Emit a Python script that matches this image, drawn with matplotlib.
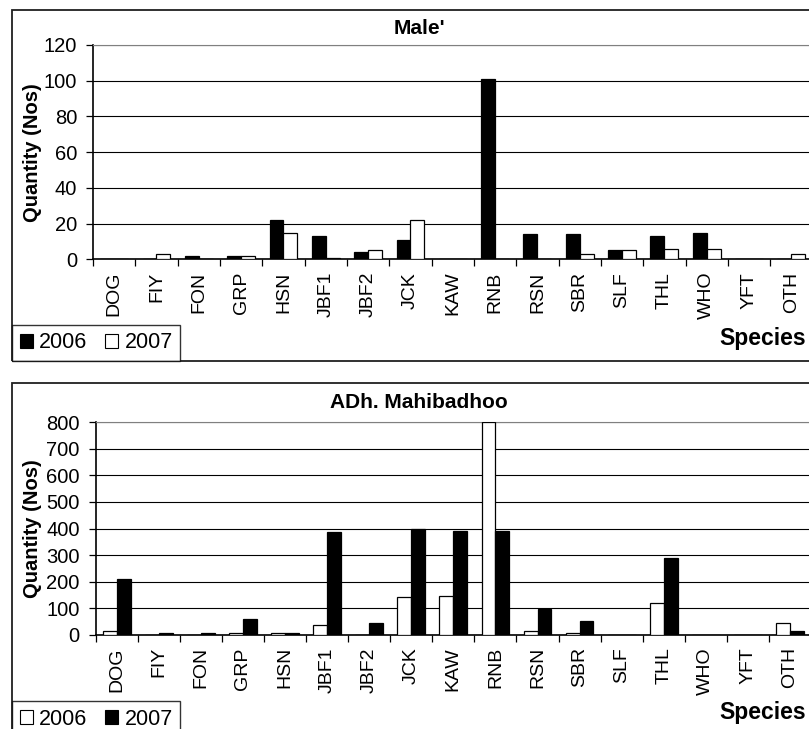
import matplotlib
matplotlib.use("Agg")
import matplotlib.pyplot as plt
from matplotlib.patches import Rectangle, Patch
import numpy as np

plt.rcParams['font.family'] = ['Liberation Sans', 'DejaVu Sans']

# species codes on the x axis (same for both sites)
species = ['DOG', 'FIY', 'FON', 'GRP', 'HSN', 'JBF1', 'JBF2', 'JCK', 'KAW',
           'RNB', 'RSN', 'SBR', 'SLF', 'THL', 'WHO', 'YFT', 'OTH']

# Male'
male_2006 = [0, 0, 2, 2, 22, 13, 4, 11, 0, 101, 14, 14, 5, 13, 15, 0, 0]
male_2007 = [0, 3, 0, 2, 15, 1, 5, 22, 0, 0, 0, 3, 5, 6, 6, 0, 3]

# ADh. Mahibadhoo
mahi_2006 = [14, 0, 0, 7, 7, 35, 0, 141, 147, 800, 14, 7, 0, 119, 0, 0, 43]
mahi_2007 = [210, 7, 7, 58, 7, 386, 43, 398, 392, 392, 95, 52, 0, 288, 0, 0, 15]

W, H = 809, 729
fig = plt.figure(figsize=(W / 100, H / 100), dpi=100)


def box(x0, y0, x1, y1):
    # pixel box -> figure fraction [left, bottom, width, height]
    return [x0 / W, 1 - y1 / H, (x1 - x0) / W, (y1 - y0) / H]


def panel(rect, first, second, first_col, second_col, ymax, ystep, title, title_y, label_x):
    ax = fig.add_axes(rect)
    x = np.arange(len(species)) + 0.5
    w = 0.33
    ax.bar(x - w / 2, first, w, color=first_col, edgecolor='black', linewidth=0.9, zorder=3)
    ax.bar(x + w / 2, second, w, color=second_col, edgecolor='black', linewidth=0.9, zorder=3)
    ax.set_xlim(0, len(species))
    ax.set_ylim(0, ymax)
    ax.set_yticks(np.arange(0, ymax + 1, ystep))
    ax.set_xticks(np.arange(0, len(species) + 1))
    ax.set_xticklabels([])
    ax.set_xticks(x, minor=True)
    ax.set_xticklabels(species, minor=True, rotation=90, fontsize=14)
    ax.tick_params(axis='x', which='major', length=5, width=0.9, direction='out')
    ax.tick_params(axis='x', which='minor', length=0, pad=9)
    ax.tick_params(axis='y', length=5, width=0.9, labelsize=14.5, pad=6.5)
    ax.set_axisbelow(True)
    ax.yaxis.grid(True, color='black', linewidth=0.8)
    ax.spines['top'].set_color('#808080')
    ax.spines['right'].set_color('#808080')
    ax.spines['left'].set_linewidth(1.2)
    ax.spines['bottom'].set_linewidth(1.2)
    ax.set_ylabel('Quantity (Nos)', fontsize=14.5, fontweight='bold')
    ax.yaxis.set_label_coords(label_x, 0.5)
    fig.text(419 / W, 1 - title_y / H, title, fontsize=15, fontweight='bold',
             ha='center', va='center')
    return ax


ax1 = panel(box(93, 45, 812.6, 259.3), male_2006, male_2007, 'black', 'white',
            120, 20, "Male'", 28, (42 - 93) / 719.6)
ax2 = panel(box(95.7, 422.3, 811, 634.7), mahi_2006, mahi_2007, 'white', 'black',
            800, 100, 'ADh. Mahibadhoo', 402, (42 - 95.7) / 715.3)

# outer chart frames
for y0, y1 in [(10, 361), (383, 745)]:
    fig.patches.append(Rectangle((12 / W, 1 - y1 / H), (830 - 12) / W, (y1 - y0) / H,
                                 transform=fig.transFigure, fill=False,
                                 edgecolor='#202020', linewidth=1.3))

for ypos in [339, 712]:
    fig.text(806 / W, 1 - ypos / H, 'Species', fontsize=16.5, fontweight='bold',
             ha='right', va='center')

# legends
h_black = Patch(facecolor='black', edgecolor='black', linewidth=0.8)
h_white = Patch(facecolor='white', edgecolor='black', linewidth=0.8)
leg_kw = dict(ncol=2, fontsize=15.5, frameon=True, fancybox=False, borderaxespad=0,
              handlelength=0.62, handleheight=0.62, handletextpad=0.3,
              columnspacing=0.8, borderpad=0.35)
l1 = fig.legend([h_black, h_white], ['2006', '2007'], loc='lower left',
                bbox_to_anchor=(12 / W, 1 - 361 / H), **leg_kw)
l2 = fig.legend([h_white, h_black], ['2006', '2007'], loc='upper left',
                bbox_to_anchor=(12 / W, 1 - 701 / H), **leg_kw)
for lg in (l1, l2):
    lg.get_frame().set_edgecolor('black')
    lg.get_frame().set_linewidth(1.0)

fig.savefig('out.png', dpi=100)
